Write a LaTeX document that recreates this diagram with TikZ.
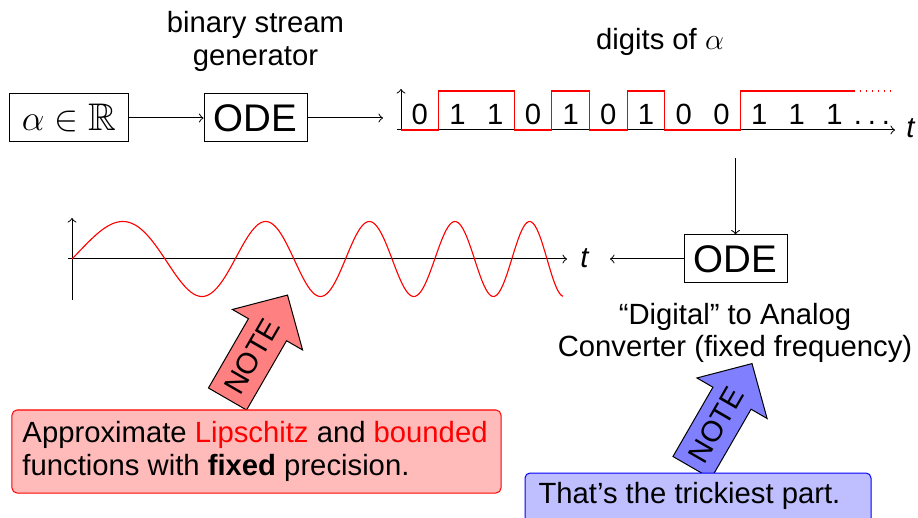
\documentclass[tikz,border=0pt]{standalone}
\usepackage{fontspec}
\setmainfont{Liberation Sans}
\usepackage{amssymb}
\begin{document}
\begin{tikzpicture}[x=0.4pt,y=-0.4pt,
  txt/.style={inner sep=0pt, font=\fontsize{11.7}{13.2}\selectfont},
  bigtxt/.style={font=\fontsize{15.4}{18}\selectfont},
  blockbox/.style={draw, bigtxt, inner sep=0pt, minimum height=19.2pt},
  notearrow/.style={draw=black, line join=miter},
  notetxt/.style={txt, rotate=60},
  wave/.style={red, line width=0.45pt},
  sig/.style={red, line width=0.45pt}]
\useasboundingbox (0,0) rectangle (918,518);
\clip (0,0) rectangle (918,518);

% ---- top row: alpha -> ODE -> digit stream
\node[blockbox, minimum width=47.2pt] (alpha) at (69,118) {$\alpha\in\mathbb{R}$};
\node[blockbox, minimum width=41.2pt] (ode1) at (255.5,118) {ODE};
\node[txt, anchor=base] (gen1) at (255.5,32.5) {binary stream};
\node[txt, anchor=base] (gen2) at (255.5,65.5) {generator};
\coordinate (sigin) at (383,118);
\draw[->] (alpha) -- (ode1);
\draw[->] (ode1) -- (sigin);

% ---- digit stream axes and signal
\coordinate (dx0) at (397,130);
\coordinate (dx1) at (895,130);
\coordinate (dy0) at (401,131);
\coordinate (dy1) at (401,89);
\draw[->] (dx0) -- (dx1);
\draw[->] (dy0) -- (dy1);
\node[txt, anchor=base] (tA) at (911,138) {\textit{t}};
\node[txt, anchor=base] (digits) at (660,50) {digits of $\alpha$};
\draw[sig] (401,130) -- (438.7,130) -- (438.7,91) -- (514.1,91) -- (514.1,130)
  -- (551.8,130) -- (551.8,91) -- (589.5,91) -- (589.5,130) -- (627.2,130)
  -- (627.2,91) -- (664.9,91) -- (664.9,130) -- (740.3,130) -- (740.3,91)
  -- (853.4,91);
\draw[sig, dotted] (853.4,91) -- (891.1,91);
\foreach \d [count=\k from 0] in {0,1,1,0,1,0,1,0,0,1,1,1}
  \node[txt, anchor=base] (d\k) at ({401+(\k+0.5)*37.7},125) {\d};
\node[txt, anchor=base] (dots) at (872,125) {.\hspace{0.2em}.\hspace{0.2em}.};

% ---- digital to analog converter
\node[blockbox, minimum width=41.2pt] (ode2) at (735.5,259) {ODE};
\coordinate (sigdown) at (735.5,158);
\coordinate (sineout) at (610,259);
\draw[->] (sigdown) -- (ode2);
\draw[->] (ode2) -- (sineout);
\node[txt, anchor=base] (dac1) at (735,324) {“Digital” to Analog};
\node[txt, anchor=base] (dac2) at (735,356) {Converter (fixed frequency)};

% ---- analog output
\coordinate (sx0) at (68,259);
\coordinate (sx1) at (567,259);
\coordinate (sy0) at (72,300);
\coordinate (sy1) at (72,218);
\draw[->] (sx0) -- (sx1);
\draw[->] (sy0) -- (sy1);
\node[txt, anchor=base] (tB) at (585,268) {\textit{t}};
\draw[wave] plot[domain=0:4.91, samples=300, smooth]
  ({72+100*\x},{259-37.5*sin(38.62*\x*\x+157.6*\x)});

% ---- notes
\begin{scope}[shift={(227.5,399)}, rotate=60]
  \fill[red!50] (0,-22) -- (80,-22) -- (80,-40.5) -- (120,0) -- (80,40.5) -- (80,22) -- (0,22) -- cycle;
  \draw[notearrow] (0,-22) -- (80,-22) -- (80,-40.5) -- (120,0) -- (80,40.5) -- (80,22) -- (0,22) -- cycle;
  \node[notetxt] (notea) at (49,0) {NOTE};
\end{scope}
\begin{scope}[shift={(692,467.5)}, rotate=60]
  \fill[blue!50] (0,-22) -- (80,-22) -- (80,-40.5) -- (120,0) -- (80,40.5) -- (80,22) -- (0,22) -- cycle;
  \draw[notearrow] (0,-22) -- (80,-22) -- (80,-40.5) -- (120,0) -- (80,40.5) -- (80,22) -- (0,22) -- cycle;
  \node[notetxt] (noteb) at (49,0) {NOTE};
\end{scope}

\node[draw=red, fill=red!27, rounded corners=2pt, minimum width=195.6pt, minimum height=33.2pt, inner sep=0pt] (redbox) at (256.5,451.5) {};
\node[txt, anchor=base west] (rl1) at (22,442) {Approximate \textcolor{red}{Lipschitz} and \textcolor{red}{bounded}};
\node[txt, anchor=base west] (rl2) at (22,475) {functions with \textbf{fixed} precision.};

\node[draw=blue, fill=blue!25, rounded corners=2pt, minimum width=138.4pt, minimum height=22.8pt, inner sep=0pt] (bluebox) at (698,501.5) {};
\node[txt, anchor=base west] (bl1) at (538,503) {That’s the trickiest part.};
\end{tikzpicture}
\end{document}
